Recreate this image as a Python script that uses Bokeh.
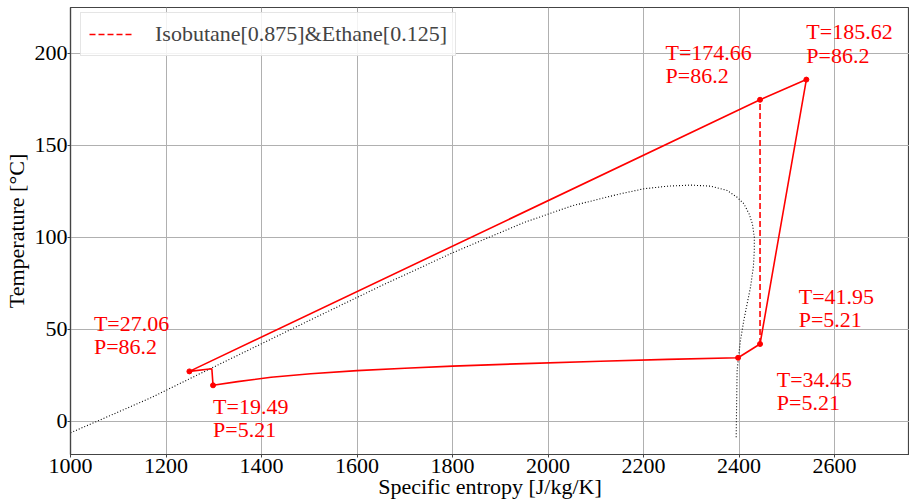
from bokeh.plotting import figure
from bokeh.models import Range1d, Legend, LegendItem, FixedTicker
from bokeh.embed import file_html
from bokeh.resources import INLINE
from bokeh.core.properties import value

FONT = "Liberation Serif"

# Axis ticks
x_ticks = [1000, 1200, 1400, 1600, 1800, 2000, 2200, 2400, 2600]
y_ticks = [0, 50, 100, 150, 200]

# Cycle state points: entropy [J/kg/K], temperature [°C], pressure [bar]
state_s = [1249, 1298.5, 2398, 2444, 2541, 2444]
state_T = [27.06, 19.49, 34.45, 41.95, 185.62, 174.66]
state_P = [86.2, 5.21, 5.21, 5.21, 86.2, 86.2]

# Closed cycle path (pump, condenser, desuperheater, turbine, heater)
cycle_s = [1249, 1296, 1298.5, 1350, 1420, 1503, 1600, 1700, 1800, 1950,
           2110, 2250, 2398, 2444, 2541, 2444, 1249]
cycle_T = [27.06, 28.5, 19.49, 21.5, 23.9, 25.8, 27.5, 28.8, 29.9, 31.3,
           32.6, 33.6, 34.45, 41.95, 185.62, 174.66, 27.06]

# Isentropic expansion reference line
iso_s = [2444, 2444]
iso_T = [41.95, 174.66]

# Saturation dome of the mixture
dome_s = [1000, 1056, 1168, 1249, 1503, 1650, 1800, 1950, 2050, 2110, 2152,
          2201, 2250, 2299, 2341, 2375, 2396, 2410, 2421, 2428, 2432, 2432,
          2430, 2424, 2417, 2410, 2403, 2399, 2396, 2395, 2394]
dome_T = [-6.3, 0, 12.7, 23, 55.1, 73.5, 91.5, 108, 117, 120.9, 123.6,
          126.3, 127.7, 128.3, 127.7, 125.4, 121.7, 118.2, 112.7, 107.3, 100,
          92.8, 83.7, 72.8, 63.8, 54.7, 43.9, 34.8, 27.6, 10, -9.5]

legend_label = "Isobutane[0.875]&Ethane[0.125]"
x_title = "Specific entropy [J/kg/K]"
y_title = "Temperature [°C]"

# Where each annotation sits relative to its state point (data units)
label_dx = [-200, 0, 81, 81, 0, -198]
label_dy = [6.5, -31, -31, 6.5, 6.5, 6.5]

p = figure(width=909, height=501,
           x_range=Range1d(1000, 2757), y_range=Range1d(-18.1, 224.8),
           output_backend="svg", toolbar_location=None,
           min_border_left=70, min_border_right=0,
           min_border_top=7, min_border_bottom=47,
           background_fill_color="white", border_fill_color="white")

p.outline_line_color = "#444444"
p.outline_line_width = 1.2

for ax in (p.xaxis, p.yaxis):
    ax.axis_line_color = "#444444"
    ax.axis_line_width = 1.2
    ax.major_tick_line_color = "#444444"
    ax.major_tick_out = 3
    ax.major_tick_in = 0
    ax.minor_tick_out = 0
    ax.minor_tick_in = 0
    ax.major_label_text_font = FONT
    ax.major_label_text_font_size = "22px"
    ax.major_label_text_color = "black"
    ax.axis_label_text_font = FONT
    ax.axis_label_text_font_size = "22px"
    ax.axis_label_text_font_style = "normal"
    ax.axis_label_text_color = "black"

p.xaxis.ticker = FixedTicker(ticks=x_ticks)
p.yaxis.ticker = FixedTicker(ticks=y_ticks)
p.xaxis.axis_label = x_title
p.yaxis.axis_label = y_title
p.xaxis.major_label_standoff = 1
p.xaxis.axis_label_standoff = -2
p.yaxis.major_label_standoff = 0
p.yaxis.axis_label_standoff = 3

p.grid.grid_line_color = "#b0b0b0"
p.grid.grid_line_width = 1

# Saturation dome
p.line(dome_s, dome_T, line_color="black", line_width=1.1, line_dash="1 2")

# Cycle
p.line(cycle_s, cycle_T, line_color="red", line_width=1.6)
iso = p.line(iso_s, iso_T, line_color="red", line_width=1.6, line_dash="6 3")
p.scatter(state_s, state_T, size=5, color="red")

# State annotations
lab_x = [s + dx for s, dx in zip(state_s, label_dx)]
lab_y = [t + dy for t, dy in zip(state_T, label_dy)]
lab_text = [f"T={t:.2f}\nP={pp:g}" for t, pp in zip(state_T, state_P)]
p.text(lab_x, lab_y, text=lab_text, text_font=value(FONT),
       text_font_size="22px", text_color="red", text_align="left",
       text_baseline="bottom", text_line_height=0.93)

legend = Legend(items=[LegendItem(label=legend_label, renderers=[iso])],
                location=(10, 398))
legend.label_text_font = FONT
legend.label_text_font_size = "22px"
legend.border_line_color = "#cccccc"
legend.border_line_width = 1
legend.background_fill_alpha = 0.85
legend.padding = 8
legend.spacing = 0
legend.glyph_width = 44
legend.glyph_height = 24
legend.label_standoff = 22
legend.margin = 0
p.add_layout(legend)

open("out.html", "w").write(file_html(p, INLINE))
